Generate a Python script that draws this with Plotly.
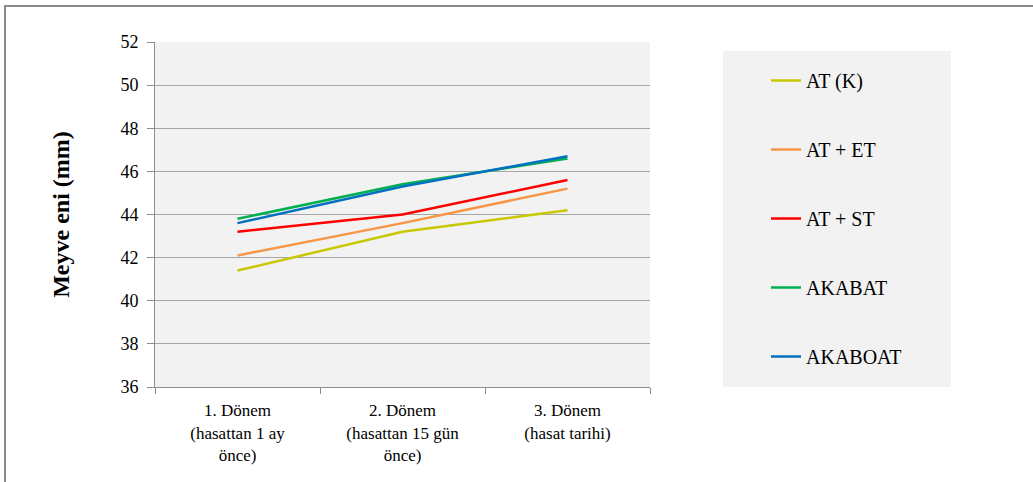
import plotly.graph_objects as go

categories = ["1. Dönem<br>(hasattan 1 ay<br>önce)",
              "2. Dönem<br>(hasattan 15 gün<br>önce)",
              "3. Dönem<br>(hasat tarihi)"]
series_names = ["AT (K)", "AT + ET", "AT + ST", "AKABAT", "AKABOAT"]
at_k = [41.4, 43.2, 44.2]
at_et = [42.1, 43.6, 45.2]
at_st = [43.2, 44.0, 45.6]
akabat = [43.8, 45.4, 46.6]
akaboat = [43.6, 45.3, 46.7]
colors = ["#c8c800", "#f79646", "#ff0000", "#00b050", "#0070c0"]

series = [at_k, at_et, at_st, akabat, akaboat]

FONT = "Liberation Serif"
L, R, T, B = 155, 383, 42, 95
W, H = 1033, 482
pw = W - L - R
ph = H - T - B

def px(x):
    return (x - L) / pw

def py(y):
    return (H - B - y) / ph

fig = go.Figure()
for i, (name, vals) in enumerate(zip(series_names, series)):
    fig.add_trace(go.Scatter(
        x=categories, y=vals, name=name, mode="lines",
        line=dict(color=colors[i], width=2.5),
        legendgroup=name,
    ))

fig.update_layout(
    width=W, height=H,
    margin=dict(l=L, r=R, t=T, b=B, pad=0),
    paper_bgcolor="white",
    plot_bgcolor="#f2f2f2",
    font=dict(family=FONT, size=17, color="black"),
    showlegend=True,
    legend=dict(
        x=px(766), y=py(61), xanchor="left", yanchor="top",
        bgcolor="rgba(0,0,0,0)",
        font=dict(family=FONT, size=20, color="black"),
        tracegroupgap=40,
        itemclick=False,
    ),
    xaxis=dict(
        type="category",
        showgrid=False,
        showline=True, linecolor="#8c8c8c", linewidth=1,
        ticks="outside", ticklen=6, tickcolor="#8c8c8c",
        tickson="boundaries",
        tickfont=dict(family=FONT, size=17, color="black"),
        ticklabelstandoff=8,
        range=[-0.5, 2.5],
    ),
    yaxis=dict(
        range=[36, 52], dtick=2, tick0=36,
        showgrid=True, gridcolor="#a6a6a6", gridwidth=1,
        showline=True, linecolor="#8c8c8c", linewidth=1,
        ticks="outside", ticklen=7, tickcolor="#8c8c8c",
        tickfont=dict(family=FONT, size=18, color="black"),
        ticklabelstandoff=5,
        zeroline=False,
        title=dict(text="<b>Meyve eni (mm)</b>",
                   font=dict(family=FONT, size=24, color="black"), standoff=44),
    ),
    shapes=[
        dict(type="rect", xref="paper", yref="paper",
             x0=px(723), x1=px(951), y0=py(387), y1=py(51),
             fillcolor="#f2f2f2", line=dict(width=0), layer="below"),
        dict(type="rect", xref="paper", yref="paper",
             x0=px(5), x1=px(1045), y0=py(495), y1=py(6),
             fillcolor="rgba(0,0,0,0)", line=dict(color="#8c8c8c", width=2)),
    ],
)

fig.write_html("out.html", config={"displayModeBar": False},
               post_script="document.body.style.margin='0px';")
